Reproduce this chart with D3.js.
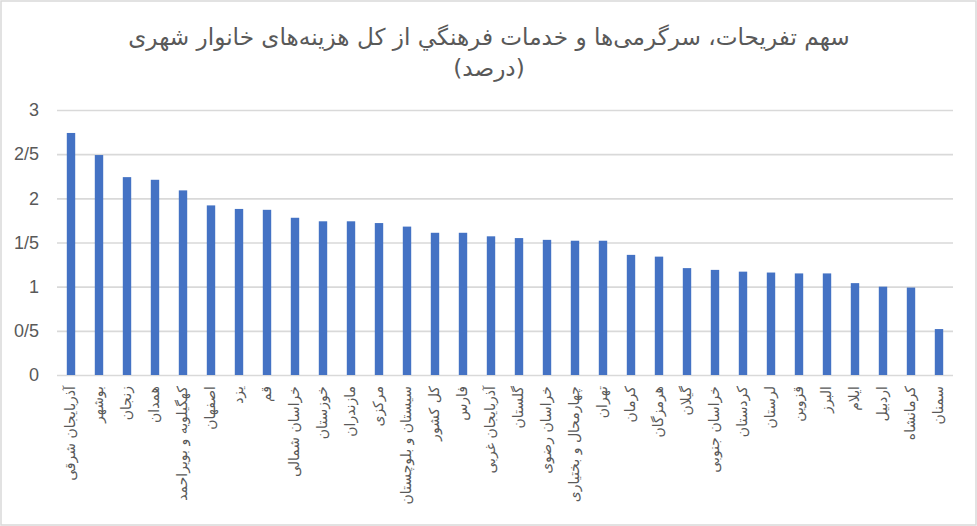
<!DOCTYPE html>
<html>
<head>
<meta charset="utf-8">
<script src="https://cdn.jsdelivr.net/npm/d3@7"></script>
<style>
  html, body { margin: 0; padding: 0; background: #fff; }
  svg { display: block; }
</style>
</head>
<body>
<svg id="chart" width="977" height="526"></svg>
<script>
const provinces = [
  "آذربایجان شرقی", "بوشهر", "زنجان", "همدان", "کهگیلویه و بویراحمد", "اصفهان",
  "یزد", "قم", "خراسان شمالی", "خوزستان", "مازندران", "مرکزی",
  "سیستان و بلوچستان", "کل کشور", "فارس", "آذربایجان غربی", "گلستان", "خراسان رضوی",
  "چهارمحال و بختیاری", "تهران", "کرمان", "هرمزگان", "گیلان", "خراسان جنوبی",
  "کردستان", "لرستان", "قزوین", "البرز", "ایلام", "اردبیل", "کرمانشاه", "سمنان",
];
const shares = [
  2.74, 2.49, 2.24, 2.21, 2.09, 1.92,
  1.88, 1.87, 1.78, 1.74, 1.74, 1.72,
  1.68, 1.61, 1.61, 1.57, 1.55, 1.53,
  1.52, 1.52, 1.36, 1.34, 1.21, 1.19,
  1.17, 1.16, 1.15, 1.15, 1.04, 1.00, 0.99, 0.52,
];
const yTicks = [0, 0.5, 1, 1.5, 2, 2.5, 3];
const titleLines = ["سهم تفریحات، سرگرمی‌ها و خدمات فرهنگي از کل هزینه‌های خانوار شهری", "(درصد)"];

const svg = d3.select("#chart");
const width = 977;
const height = 526;
const plot = { left: 57, right: 953, top: 110, bottom: 375 };

// outer chart frame
svg.append("rect")
  .attr("x", 1).attr("y", 1)
  .attr("width", width - 2).attr("height", height - 2)
  .attr("fill", "#fff")
  .attr("stroke", "#d9d9d9")
  .attr("stroke-width", 1.5);

const x = d3.scaleBand()
  .domain(provinces)
  .range([plot.left, plot.right])
  .paddingInner(0.7)
  .paddingOuter(0.35);

const y = d3.scaleLinear()
  .domain([0, 3])
  .range([plot.bottom, plot.top]);

// gridlines + y labels
const yAxis = d3.axisLeft(y)
  .tickValues(yTicks)
  .tickSize(-(plot.right - plot.left))
  .tickPadding(18)
  .tickFormat((d) => String(d).replace(".", "/"));

const yg = svg.append("g")
  .attr("transform", `translate(${plot.left},0)`)
  .call(yAxis);
yg.select(".domain").remove();
yg.selectAll(".tick line").attr("stroke", "#d9d9d9").attr("stroke-width", 1.6);
yg.selectAll(".tick text")
  .attr("fill", "#595959")
  .attr("font-family", "Liberation Sans, Arial, sans-serif")
  .attr("font-size", 18);

// bars
svg.append("g")
  .selectAll("rect")
  .data(provinces)
  .join("rect")
  .attr("x", (d) => x(d))
  .attr("y", (d, i) => y(shares[i]))
  .attr("width", x.bandwidth())
  .attr("height", (d, i) => y(0) - y(shares[i]))
  .attr("fill", "#4472c4");

// category labels (rotated)
svg.append("g")
  .selectAll("text")
  .data(provinces)
  .join("text")
  .attr("transform", (d) => `translate(${x(d) + x.bandwidth() / 2 + 4},${plot.bottom + 11}) rotate(-90)`)
  .attr("text-anchor", "end")
  .attr("fill", "#595959")
  .attr("font-family", "DejaVu Sans, sans-serif")
  .attr("font-size", 14)
  .text((d) => d);

// title
const title = svg.append("g")
  .attr("fill", "#595959")
  .attr("font-family", "DejaVu Sans, sans-serif")
  .attr("text-anchor", "middle");

const titleText = title.selectAll("text")
  .data(titleLines)
  .join("text")
  .attr("x", 489)
  .attr("y", (d, i) => 45 + i * 31)
  .attr("font-size", 20)
  .text((d) => d);

// fit the first title line to the reference width
const len = titleText.node().getComputedTextLength();
const fitted = 20 * 722 / len;
titleText.attr("font-size", fitted);
</script>
</body>
</html>
